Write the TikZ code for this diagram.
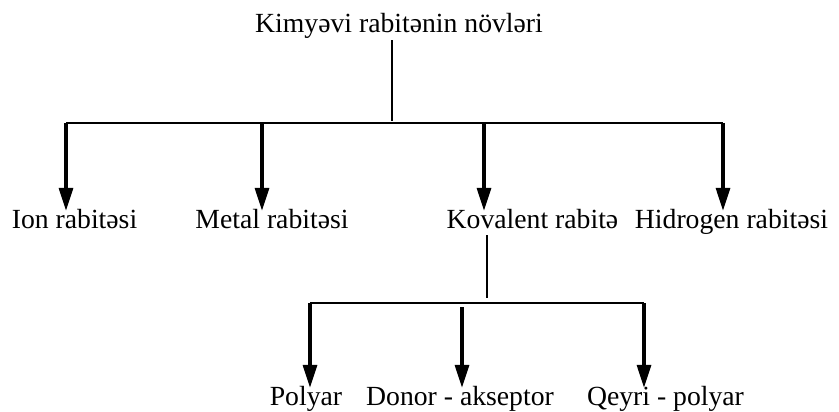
\documentclass[tikz,border=0pt]{standalone}
\usepackage{fontspec}
\setmainfont{Liberation Serif}
\usetikzlibrary{arrows.meta}
\begin{document}
\begin{tikzpicture}[x=1pt,y=1pt,
  lbl/.style={inner sep=0pt, anchor=base, text height=17pt, text depth=7pt,
    font=\fontsize{27.7}{33}\selectfont},
  ln/.style={line width=2.6pt},
  arr/.style={line width=3.2pt, -{Triangle[length=23pt,width=14pt]}}]
\useasboundingbox (0,0) rectangle (839,-412);
% nodes
\node[lbl] (title) at (399,-33) {Kimyəvi rabitənin növləri};
\node[lbl] (ion)   at (74.5,-228) {Ion rabitəsi};
\node[lbl] (metal) at (272,-228) {Metal rabitəsi};
\node[lbl] (kov)   at (532.5,-228) {Kovalent rabitə};
\node[lbl] (hid)   at (731.5,-228) {Hidrogen rabitəsi};
\node[lbl] (pol)   at (306,-405) {Polyar};
\node[lbl] (don)   at (460,-405) {Donor - akseptor};
\node[lbl] (qey)   at (665.5,-405) {Qeyri - polyar};
% junction coordinates
\coordinate (jt) at (392,-121);
\coordinate (a1) at (66,-123);
\coordinate (a2) at (262,-123);
\coordinate (a3) at (484,-123);
\coordinate (a4) at (723,-123);
\coordinate (jk) at (487,-298);
\coordinate (b1) at (310,-303);
\coordinate (b2) at (462,-307);
\coordinate (b3) at (644,-303);
% first level
\draw[ln] (title.south -| jt) -- (jt);
\draw[ln] (a1) -- (a4);
\draw[arr] (a1) -- (ion.north -| a1);
\draw[arr] (a2) -- (metal.north -| a2);
\draw[arr] (a3) -- (kov.north -| a3);
\draw[arr] (a4) -- (hid.north -| a4);
% second level
\draw[ln] (kov.south -| jk) -- (jk);
\draw[ln] (b1) -- (b3);
\draw[arr] (b1) -- (pol.north -| b1);
\draw[arr] (b2) -- (don.north -| b2);
\draw[arr] (b3) -- (qey.north -| b3);
\end{tikzpicture}
\end{document}
